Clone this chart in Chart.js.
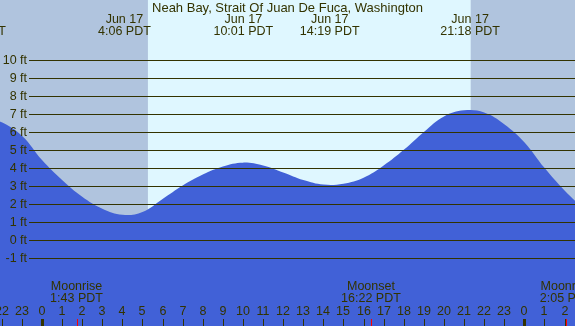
<!DOCTYPE html>
<html>
<head>
<meta charset="utf-8">
<script src="https://cdn.jsdelivr.net/npm/chart.js@4"></script>
<style>
html, body { margin: 0; padding: 0; background: #b0c4de; }
#wrap { width: 575px; height: 326px; position: relative; }
</style>
</head>
<body>
<div id="wrap"><canvas id="tide-chart"></canvas></div>
<script>
const TITLE = 'Neah Bay, Strait Of Juan De Fuca, Washington';

// hours after midnight Jun 17 (PDT) and tide height in ft
const hours   = [-3, -2, -1, 0, 1, 2, 3, 4, 5, 6, 7, 8, 9, 10, 11, 12, 13, 14, 15, 16, 17, 18, 19, 20, 21, 22, 23, 24, 25, 26, 27];
const heights = [7.0, 6.55, 5.8, 4.45, 3.34, 2.41, 1.75, 1.41, 1.57, 2.29, 3.04, 3.65, 4.1, 4.31, 4.15, 3.76, 3.34, 3.09, 3.14, 3.47, 4.15, 5.02, 6.02, 6.88, 7.22, 7.1, 6.45, 5.45, 4.02, 2.76, 1.7];

const levelTicks = [-1, 0, 1, 2, 3, 4, 5, 6, 7, 8, 9, 10];
const hourTicks  = [-2, -1, 0, 1, 2, 3, 4, 5, 6, 7, 8, 9, 10, 11, 12, 13, 14, 15, 16, 17, 18, 19, 20, 21, 22, 23, 24, 25, 26];
const hourLabels = ['22', '23', '0', '1', '2', '3', '4', '5', '6', '7', '8', '9', '10', '11', '12', '13', '14', '15', '16', '17', '18', '19', '20', '21', '22', '23', '0', '1', '2'];
const midnights  = [0, 24];

const extremeHours = [-3.28, 4.1, 10.017, 14.317, 21.3];
const extremeDates = ['Jun 16', 'Jun 17', 'Jun 17', 'Jun 17', 'Jun 17'];
const extremeTimes = ['20:43 PDT', '4:06 PDT', '10:01 PDT', '14:19 PDT', '21:18 PDT'];

const moonHours = [1.717, 16.367, 26.083];
const moonNames = ['Moonrise', 'Moonset', 'Moonrise'];
const moonTimes = ['1:43 PDT', '16:22 PDT', '2:05 PDT'];

const sunrise = 5.27, sunset = 21.33;

const NIGHT = '#b0c4de', DAY = '#dff7ff', WATER = '#4161d7', INK = '#333300';
const FONT = '12.5px "Liberation Sans", Arial, sans-serif';

const tideDecor = {
    id: 'tideDecor',
    beforeDatasetsDraw(chart) {
        const { ctx, chartArea: a, scales: { x } } = chart;
        ctx.save();
        ctx.fillStyle = NIGHT;
        ctx.fillRect(a.left, a.top, a.right - a.left, a.bottom - a.top);
        const x0 = x.getPixelForValue(sunrise), x1 = x.getPixelForValue(sunset);
        ctx.fillStyle = DAY;
        ctx.fillRect(x0, a.top, x1 - x0, a.bottom - a.top);
        ctx.restore();
    },
    afterDatasetsDraw(chart) {
        const { ctx, chartArea: a, scales: { x, y } } = chart;
        ctx.save();
        ctx.font = FONT;
        ctx.fillStyle = INK;
        ctx.strokeStyle = INK;
        ctx.lineWidth = 1;

        // level lines + labels
        levelTicks.forEach(v => {
            const py = Math.round(y.getPixelForValue(v)) + 0.5;
            ctx.beginPath();
            ctx.moveTo(29, py);
            ctx.lineTo(a.right, py);
            ctx.stroke();
            ctx.textAlign = 'right';
            ctx.textBaseline = 'middle';
            ctx.fillText(v + ' ft', 27, py);
        });

        // hour ticks and labels
        ctx.textAlign = 'center';
        ctx.textBaseline = 'middle';
        hourTicks.forEach((h, i) => {
            const px = Math.round(x.getPixelForValue(h));
            const wide = midnights.includes(h);
            ctx.fillRect(px - (wide ? 1 : 0), 319, wide ? 3 : 1, a.bottom - 319);
            ctx.fillText(hourLabels[i], px, 312);
        });

        // moon events
        moonHours.forEach((h, i) => {
            const px = x.getPixelForValue(h);
            ctx.fillStyle = '#ff0000';
            ctx.fillRect(Math.round(px), 319, 1, a.bottom - 319);
            ctx.fillStyle = INK;
            ctx.fillText(moonNames[i], px, 287);
            ctx.fillText(moonTimes[i], px, 299);
        });

        // tide extremes
        extremeHours.forEach((h, i) => {
            const px = x.getPixelForValue(h);
            ctx.fillText(extremeDates[i], px, 20);
            ctx.fillText(extremeTimes[i], px, 32);
        });

        ctx.font = '13px "Liberation Sans", Arial, sans-serif';
        ctx.fillText(TITLE, (a.left + a.right) / 2, 8);
        ctx.restore();
    }
};

new Chart(document.getElementById('tide-chart'), {
    type: 'line',
    data: {
        datasets: [{
            data: hours.map((h, i) => ({ x: h, y: heights[i] })),
            fill: 'start',
            backgroundColor: WATER,
            borderWidth: 0,
            pointRadius: 0,
            tension: 0.4
        }]
    },
    options: {
        responsive: true,
        maintainAspectRatio: false,
        animation: false,
        layout: { padding: 0 },
        plugins: { legend: { display: false }, tooltip: { enabled: false } },
        scales: {
            x: { type: 'linear', min: -2.09, max: 26.52, display: false },
            y: { min: -4.77, max: 13.35, display: false }
        }
    },
    plugins: [tideDecor]
});
</script>
</body>
</html>
